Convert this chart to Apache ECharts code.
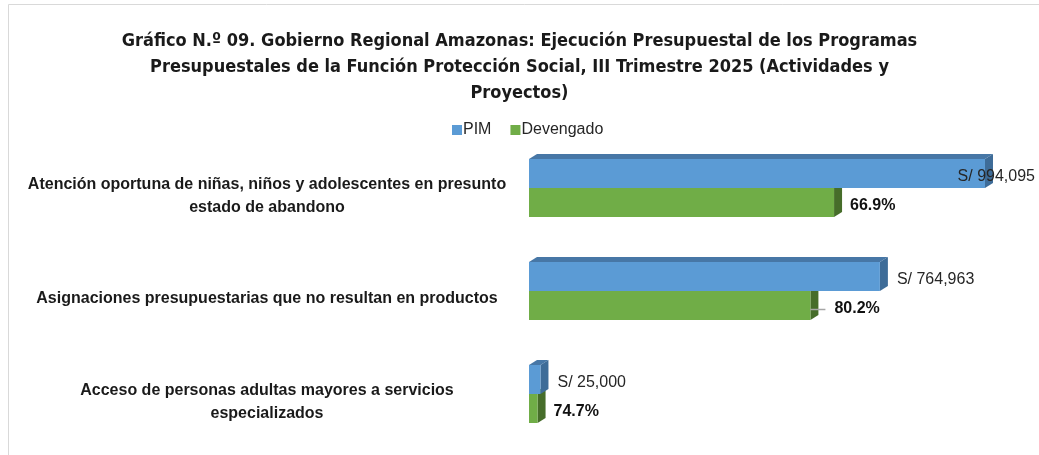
<!DOCTYPE html>
<html><head><meta charset="utf-8">
<script src="https://cdn.jsdelivr.net/npm/echarts@6/dist/echarts.min.js"></script>
<style>html,body{margin:0;padding:0;background:#fff}#c{width:1039px;height:455px}</style>
</head><body><div id="c"></div>
<script>
const titleText = 'Gráfico N.º 09. Gobierno Regional Amazonas: Ejecución Presupuestal de los Programas\nPresupuestales de la Función Protección Social, III Trimestre 2025 (Actividades y\nProyectos)';
const categories = [
  'Atención oportuna de niñas, niños y adolescentes en presunto\nestado de abandono',
  'Asignaciones presupuestarias que no resultan en productos',
  'Acceso de personas adultas mayores a servicios\nespecializados'
];
const seriesNames = ['PIM', 'Devengado'];
const pim = [994095, 764963, 25000];
const devengado = [665050, 613500, 18675];

const fmtMoney = v => 'S/ ' + v.toLocaleString('en-US');
const fmtPct = (d, p) => (d / p * 100).toFixed(1) + '%';

const DX = 8, DY = 5, H = 29;
function makeRender(isPim) {
  return function (params, api) {
    const cat = api.value(0), val = api.value(1);
    const s = api.coord([0, cat]);
    const e = api.coord([val, cat]);
    const x0 = s[0], x1 = e[0];
    const y0 = isPim ? s[1] - H : s[1];
    const front = isPim ? '#5b9bd5' : '#70ad47';
    const top = isPim ? '#4777a6' : '#5a8a38';
    const side = isPim ? '#3e6c98' : '#466d2a';
    const children = [
      {type: 'polygon', shape: {points: [[x0, y0], [x0 + DX, y0 - DY], [x1 + DX, y0 - DY], [x1, y0]]}, style: {fill: top}},
      {type: 'polygon', shape: {points: [[x1, y0], [x1 + DX, y0 - DY], [x1 + DX, y0 + H - DY], [x1, y0 + H]]}, style: {fill: side}},
      {type: 'rect', shape: {x: x0, y: y0, width: x1 - x0, height: H}, style: {fill: front}}
    ];
    const i = params.dataIndex;
    const ty = y0 + H / 2 + 3;
    let text, tx, align = 'left';
    if (isPim) {
      text = fmtMoney(pim[i]);
      tx = x1 + 17;
      if (tx + 80 > 1035) { tx = 1035; align = 'right'; }
    } else {
      text = fmtPct(devengado[i], pim[i]);
      tx = x1 + 16;
      if (i === 1) {
        tx = x1 + 24;
        children.push({type: 'line', shape: {x1: x1, y1: ty + 1, x2: x1 + 15, y2: ty + 1}, style: {stroke: '#a6a6a6', lineWidth: 1.5}});
      }
    }
    children.push({type: 'text', style: {
      text: text, x: tx, y: ty, align: align, verticalAlign: 'middle',
      fill: isPim ? '#262626' : '#111', fontSize: 16,
      fontWeight: isPim ? 'normal' : 'bold', fontFamily: '"Liberation Sans", Arial, sans-serif'
    }});
    return {type: 'group', children: children};
  };
}

const labelFont = {fontFamily: '"Liberation Sans", Arial, sans-serif', fontWeight: 'bold', fontSize: 16, lineHeight: 23, color: '#1a1a1a', align: 'center'};

const chart = echarts.init(document.getElementById('c'), null, {renderer: 'canvas'});
chart.setOption({
  animation: false,
  backgroundColor: '#fff',
  graphic: [{type: 'rect', shape: {x: 8.5, y: 4.5, width: 1100, height: 500}, style: {fill: 'none', stroke: '#d9d9d9', lineWidth: 1}, silent: true, z: -10}],
  title: {
    text: titleText, left: 'center', top: 23,
    textStyle: {fontFamily: '"Liberation Sans Narrow", "DejaVu Sans Condensed", sans-serif', fontWeight: 'bold', fontSize: 18, lineHeight: 26, color: '#1a1a1a'}
  },
  legend: {
    top: 117, left: 447, itemWidth: 10, itemHeight: 10, itemGap: 19, icon: 'rect',
    data: [{name: 'PIM', itemStyle: {color: '#5b9bd5'}}, {name: 'Devengado', itemStyle: {color: '#70ad47'}}],
    textStyle: {fontFamily: '"Liberation Sans", Arial, sans-serif', fontSize: 16, color: '#262626', padding: [0, 0, 0, -4]}
  },
  grid: {left: 529, right: 51.3, top: 136.5, bottom: 9.5, containLabel: false},
  xAxis: {type: 'value', min: 0, max: 1000000, show: false},
  yAxis: {
    type: 'category', inverse: true, data: categories,
    axisLine: {show: false}, axisTick: {show: false},
    axisLabel: {
      align: 'center', margin: 262,
      formatter: v => '{s|}\n' + v.split('\n').map(l => '{t|' + l + '}').join('\n'),
      rich: {s: {height: 16, lineHeight: 16, fontSize: 1}, t: labelFont},
      fontFamily: '"Liberation Sans", Arial, sans-serif', fontWeight: 'bold', fontSize: 16, lineHeight: 23, color: '#1a1a1a'
    }
  },
  series: [
    {name: 'Devengado', type: 'custom', z: 2, renderItem: makeRender(false), encode: {x: 1, y: 0},
      itemStyle: {color: '#70ad47'}, data: devengado.map((v, i) => [i, v])},
    {name: 'PIM', type: 'custom', z: 3, renderItem: makeRender(true), encode: {x: 1, y: 0},
      itemStyle: {color: '#5b9bd5'}, data: pim.map((v, i) => [i, v])}
  ]
});
</script></body></html>
